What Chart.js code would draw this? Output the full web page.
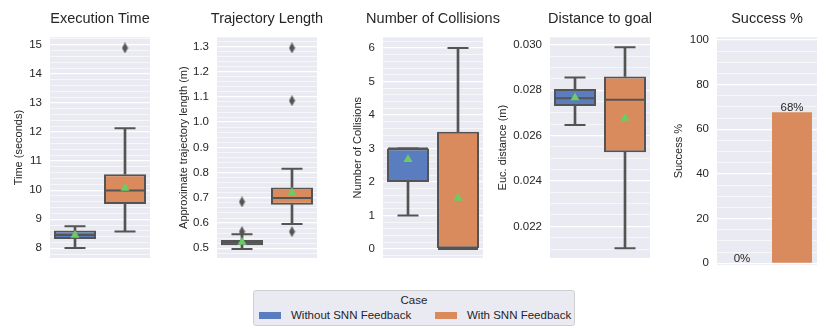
<!DOCTYPE html>
<html>
<head>
<meta charset="utf-8">
<script src="https://cdn.jsdelivr.net/npm/chart.js@4.4.0/dist/chart.umd.min.js"></script>
<style>
  body { margin: 0; width: 830px; height: 332px; overflow: hidden; background: #fff;
         position: relative; font-family: 'Liberation Sans', Arial, sans-serif; color: #262626; }
  canvas { position: absolute; top: 0; }
  #legend { position: absolute; left: 253px; top: 290px; width: 320px; height: 34px;
            background: #EAEAF2; border: 1px solid #cfcfcf; border-radius: 3px; font-size: 11.5px; }
  #legend .t { position: absolute; top: 3px; left: 0; width: 100%; text-align: center; }
  #legend .p { position: absolute; top: 21px; width: 22px; height: 7px; }
  #legend .l { position: absolute; top: 18px; white-space: nowrap; }
</style>
</head>
<body>
<canvas id="c0" width="220" height="280"></canvas>
<canvas id="c1" width="220" height="280"></canvas>
<canvas id="c2" width="220" height="280"></canvas>
<canvas id="c3" width="220" height="280"></canvas>
<canvas id="c4" width="220" height="280"></canvas>
<div id="legend">
  <div class="t">Case</div>
  <span class="p" style="left:5px; background:#597DBF"></span>
  <span class="l" style="left:37px">Without SNN Feedback</span>
  <span class="p" style="left:181px; background:#DA8B5E"></span>
  <span class="l" style="left:213px">With SNN Feedback</span>
</div>
<script>
const cases = ['Without SNN Feedback', 'With SNN Feedback'];

// box summaries per case: [low whisker, q1, median, q3, high whisker]
const timeBox = [[8.01, 8.32, 8.46, 8.61, 8.76], [8.58, 9.52, 9.99, 10.55, 12.13]];
const timeMean = [8.45, 10.07];
const timeOut = [[], [14.89]];
const timeTicks = [8, 9, 10, 11, 12, 13, 14, 15];

const lenBox = [[0.497, 0.512, 0.522, 0.533, 0.556], [0.596, 0.673, 0.699, 0.741, 0.815]];
const lenMean = [0.524, 0.72];
const lenOut = [[0.566, 0.684], [0.566, 1.085, 1.294]];
const lenTicks = [0.5, 0.6, 0.7, 0.8, 0.9, 1.0, 1.1, 1.2, 1.3];

const colBox = [[1, 2, 3, 3, 3], [0, 0, 0, 3.5, 6]];
const colMean = [2.67, 1.52];
const colOut = [[], []];
const colTicks = [0, 1, 2, 3, 4, 5, 6];

const distBox = [[0.02647, 0.02730, 0.02764, 0.02805, 0.02856], [0.02103, 0.02526, 0.02758, 0.02860, 0.02989]];
const distMean = [0.02767, 0.02677];
const distOut = [[], []];
const distTicks = [0.022, 0.024, 0.026, 0.028, 0.030];

const success = [0, 67.6];
const successTicks = [0, 20, 40, 60, 80, 100];

const COLORS = ['#597DBF', '#DA8B5E'];
const GRAY = '#545454';
const GREEN = '#6ACC64';
const FONT = "'Liberation Sans', Arial, sans-serif";

Chart.defaults.font.family = FONT;
Chart.defaults.color = '#262626';

// thin diamond used for outliers
const diamond = document.createElement('canvas');
diamond.width = 7; diamond.height = 11;
(function () {
  const g = diamond.getContext('2d');
  g.fillStyle = GRAY;
  g.beginPath();
  g.moveTo(3.5, 0); g.lineTo(6.5, 5.5); g.lineTo(3.5, 11); g.lineTo(0.5, 5.5);
  g.closePath(); g.fill();
})();

const panelBg = {
  id: 'panelBg',
  beforeDraw(chart) {
    const a = chart.chartArea, c = chart.ctx;
    c.save();
    c.fillStyle = '#EAEAF2';
    c.fillRect(a.left, a.top, a.right - a.left, a.bottom - a.top);
    c.restore();
  }
};

function yScale(o) {
  const isMajor = v => o.ticks.some(t => Math.abs(t - v) < o.minor / 100);
  return {
    min: o.min, max: o.max,
    afterBuildTicks: s => {
      const t = [];
      for (let k = Math.ceil(o.min / o.minor - 1e-9); k * o.minor <= o.max + 1e-9; k++) {
        t.push({ value: +(k * o.minor).toFixed(6) });
      }
      s.ticks = t;
    },
    afterFit: s => { s.width = 60; },
    grid: { color: '#ffffff', lineWidth: c => isMajor(c.tick.value) ? 1.3 : 0.6, drawTicks: false },
    border: { display: false },
    ticks: {
      autoSkip: false, padding: 8, font: { size: 11.5 }, color: '#262626',
      callback: v => isMajor(v) ? v.toFixed(o.dec) : ''
    },
    title: { display: true, text: o.yLabel, font: { size: 11 }, color: '#262626',
             padding: { top: o.labelPad, bottom: 0 } }
  };
}

function baseOptions(o) {
  return {
    responsive: false, animation: false, events: [],
    layout: { padding: { left: 0, right: 0, top: 0, bottom: 15 } },
    plugins: {
      legend: { display: false }, tooltip: { enabled: false },
      title: { display: true, text: o.title, fullSize: true, color: '#262626',
               font: { size: 14.5, weight: 'normal' }, padding: { top: 10, bottom: 9.9 } }
    },
    scales: {
      x: { type: 'category', offset: true, display: false },
      y: yScale(o),
      // empty right-hand spacer so the title centres over the plot
      spacer: { type: 'linear', position: 'right', afterFit: s => { s.width = 60; },
                ticks: { display: false }, grid: { display: false }, border: { display: false } }
    }
  };
}

function boxChart(o) {
  const el = document.getElementById(o.id);
  el.style.left = (o.plotLeft - 60) + 'px';
  const outliers = [];
  o.out.forEach((list, i) => list.forEach(v => outliers.push({ x: cases[i], y: v })));
  new Chart(el, {
    type: 'bar',
    data: {
      labels: cases,
      datasets: [
        { type: 'scatter', data: o.mean, pointStyle: 'triangle', pointRadius: 5.2,
          pointBackgroundColor: GREEN, pointBorderColor: GREEN, pointBorderWidth: 0, order: 0 },
        { type: 'scatter', data: outliers, pointStyle: diamond, order: 1 },
        { type: 'scatter', data: o.box.map(b => b[2]), pointStyle: 'line', pointRadius: 20,
          pointBorderColor: GRAY, pointBorderWidth: 2, order: 2 },
        { type: 'scatter', data: o.box.map(b => b[0]), pointStyle: 'line', pointRadius: 10.5,
          pointBorderColor: GRAY, pointBorderWidth: 2, order: 3 },
        { type: 'scatter', data: o.box.map(b => b[4]), pointStyle: 'line', pointRadius: 10.5,
          pointBorderColor: GRAY, pointBorderWidth: 2, order: 3 },
        { data: o.box.map(b => [b[1], b[3]]), backgroundColor: COLORS, borderColor: GRAY,
          borderWidth: 2, borderSkipped: false, barPercentage: 0.84, categoryPercentage: 1,
          grouped: false, order: 4 },
        { data: o.box.map(b => [b[0], b[1]]), backgroundColor: GRAY, barThickness: 2,
          grouped: false, order: 5 },
        { data: o.box.map(b => [b[3], b[4]]), backgroundColor: GRAY, barThickness: 2,
          grouped: false, order: 5 }
      ]
    },
    options: baseOptions(o),
    plugins: [panelBg]
  });
}

boxChart({ id: 'c0', plotLeft: 50, title: 'Execution Time', yLabel: 'Time (seconds)', labelPad: 22,
  min: 7.667, max: 15.257, minor: 0.2, ticks: timeTicks, dec: 0,
  box: timeBox, mean: timeMean, out: timeOut });

boxChart({ id: 'c1', plotLeft: 216.7, title: 'Trajectory Length', yLabel: 'Approximate trajectory length (m)', labelPad: 20.4,
  min: 0.4616, max: 1.336, minor: 0.02, ticks: lenTicks, dec: 1,
  box: lenBox, mean: lenMean, out: lenOut });

boxChart({ id: 'c2', plotLeft: 383.3, title: 'Number of Collisions', yLabel: 'Number of Collisions', labelPad: 28.4,
  min: -0.27, max: 6.318, minor: 0.2, ticks: colTicks, dec: 0,
  box: colBox, mean: colMean, out: colOut });

boxChart({ id: 'c3', plotLeft: 550, title: 'Distance to goal', yLabel: 'Euc. distance (m)', labelPad: 6.4,
  min: 0.020605, max: 0.030329, minor: 0.0005, ticks: distTicks, dec: 3,
  box: distBox, mean: distMean, out: distOut });

// success percentage bar chart
const valueLabels = {
  id: 'valueLabels',
  afterDatasetsDraw(chart) {
    const c = chart.ctx;
    c.save();
    c.font = '11.5px ' + FONT;
    c.fillStyle = '#262626';
    c.textAlign = 'center';
    c.textBaseline = 'alphabetic';
    chart.getDatasetMeta(0).data.forEach((bar, i) => {
      c.fillText(Math.round(success[i]) + '%', bar.x, bar.y - 1.5);
    });
    c.restore();
  }
};

(function () {
  const o = { title: 'Success %', yLabel: 'Success %', labelPad: 15.4,
    min: -0.76, max: 101.2, minor: 5, ticks: successTicks, dec: 0 };
  const el = document.getElementById('c4');
  el.style.left = (717.3 - 60) + 'px';
  new Chart(el, {
    type: 'bar',
    data: {
      labels: cases,
      datasets: [{ data: success, backgroundColor: COLORS, barPercentage: 0.8, categoryPercentage: 1,
                   borderWidth: 0 }]
    },
    options: baseOptions(o),
    plugins: [panelBg, valueLabels]
  });
})();
</script>
</body>
</html>
